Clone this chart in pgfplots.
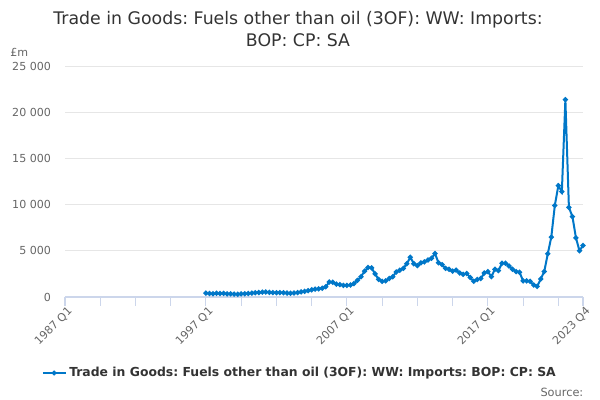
\documentclass[border=0pt]{standalone}
\usepackage{pgfplots}
\pgfplotsset{compat=1.18}
\usepackage{pgfplotstable}
\usepackage{fontspec}
\setmainfont{DejaVu Sans}
\frenchspacing
\definecolor{lineblue}{HTML}{0077C8}
\definecolor{gridgray}{HTML}{E6E6E6}
\definecolor{axisblue}{HTML}{CCD6EB}
\definecolor{ticktext}{HTML}{666666}
\definecolor{titletext}{HTML}{333333}
\pgfplotstableread{
i v
40 420
41 380
42 350
43 400
44 380
45 390
46 330
47 350
48 320
49 300
50 340
51 360
52 380
53 420
54 460
55 480
56 520
57 540
58 500
59 480
60 460
61 470
62 450
63 420
64 400
65 430
66 480
67 550
68 620
69 680
70 780
71 850
72 880
73 950
74 1100
75 1620
76 1600
77 1400
78 1350
79 1250
80 1250
81 1300
82 1450
83 1800
84 2200
85 2800
86 3200
87 3150
88 2500
89 1900
90 1700
91 1750
92 2000
93 2200
94 2700
95 2900
96 3100
97 3600
98 4300
99 3600
100 3400
101 3700
102 3800
103 4000
104 4200
105 4700
106 3700
107 3500
108 3100
109 3000
110 2800
111 2900
112 2600
113 2450
114 2550
115 2100
116 1700
117 1900
118 2000
119 2600
120 2750
121 2200
122 3000
123 2860
124 3650
125 3650
126 3360
127 3000
128 2750
129 2680
130 1740
131 1740
132 1700
133 1300
134 1150
135 1950
136 2750
137 4670
138 6480
139 9900
140 12050
141 11400
142 21350
143 9700
144 8700
145 6400
146 5000
147 5570
}\datatable
\begin{document}
\begin{tikzpicture}
\path[use as bounding box] (0pt,0pt) rectangle (450pt,300pt);
\node[text=titletext, font=\fontsize{13}{15}\selectfont] at (223.5pt,285pt) {Trade in Goods: Fuels other than oil (3OF): WW: Imports:};
\node[text=titletext, font=\fontsize{13}{15}\selectfont] at (223.5pt,270pt) {BOP: CP: SA};
\node[text=ticktext, font=\fontsize{8.3}{10}\selectfont] at (14.5pt,261pt) {£m};
\node[text=ticktext, font=\fontsize{8.5}{10}\selectfont, anchor=east] at (441pt,6pt) {Source:};
\begin{axis}[
  at={(48.75pt,77.25pt)}, anchor=south west,
  scale only axis,
  width=388.5pt, height=173.25pt,
  xmin=0, xmax=147, ymin=0, ymax=25000,
  axis x line*=bottom,
  axis y line*=left,
  y axis line style={draw=none},
  x axis line style={axisblue, line width=0.8pt, -},
  scaled y ticks=false,
  ytick={0,5000,10000,15000,20000,25000},
  yticklabels={0,5 000,10 000,15 000,20 000,25 000},
  ytick style={draw=none},
  ymajorgrids, grid style={gridgray, line width=0.6pt},
  xtick={0,40,80,120,147},
  xticklabels={1987 Q1,1997 Q1,2007 Q1,2017 Q1,2023 Q4},
  minor xtick={10,20,30,50,60,70,90,100,110,130,140},
  xtick style={axisblue, line width=0.8pt},
  minor x tick style={axisblue, line width=0.8pt},
  xtick align=outside,
  major tick length=6.5pt,
  minor tick length=6.5pt,
  tick label style={text=ticktext, font=\fontsize{8.3}{10}\selectfont},
  x tick label style={rotate=45, anchor=north east, inner sep=1pt, xshift=2pt},
  y tick label style={xshift=-7pt},
  legend style={at={(0.454,-0.329)}, anchor=center, draw=none, fill=none,
    font=\bfseries\fontsize{9.3}{11}\selectfont, text=titletext, legend cell align=left},
  legend image post style={mark size=1pt},
  clip=false,
]
\addplot[lineblue, line width=1.5pt, mark=*, mark size=1.1pt, mark options={lineblue}] table[x=i, y=v] {\datatable};
\legend{Trade in Goods: Fuels other than oil (3OF): WW: Imports: BOP: CP: SA}
\end{axis}
\end{tikzpicture}
\end{document}
